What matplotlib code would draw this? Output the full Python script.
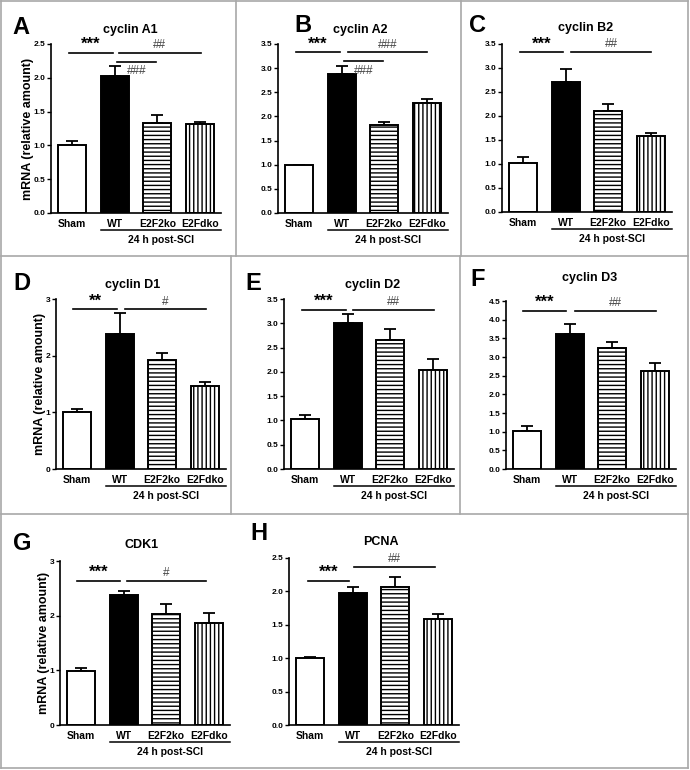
import numpy as np
import matplotlib
matplotlib.use('Agg')
from matplotlib import pyplot as plt
from matplotlib.lines import Line2D
from matplotlib import transforms

# --- data ---------------------------------------------------------------
groups = ['Sham', 'WT', 'E2F2ko', 'E2Fdko']
titles = ['cyclin A1', 'cyclin A2', 'cyclin B2', 'cyclin D1',
          'cyclin D2', 'cyclin D3', 'CDK1', 'PCNA']
letters = ['A', 'B', 'C', 'D', 'E', 'F', 'G', 'H']

cyclin_a1 = [1.01, 2.02, 1.33, 1.31]
cyclin_a1_err = [0.05, 0.16, 0.12, 0.03]
cyclin_a2 = [1.00, 2.88, 1.82, 2.27]
cyclin_a2_err = [0.0, 0.16, 0.07, 0.09]
cyclin_b2 = [1.02, 2.70, 2.11, 1.58]
cyclin_b2_err = [0.13, 0.27, 0.14, 0.07]
cyclin_d1 = [1.00, 2.39, 1.92, 1.46]
cyclin_d1_err = [0.06, 0.36, 0.13, 0.07]
cyclin_d2 = [1.02, 3.01, 2.66, 2.04]
cyclin_d2_err = [0.10, 0.18, 0.23, 0.23]
cyclin_d3 = [1.03, 3.62, 3.24, 2.62]
cyclin_d3_err = [0.11, 0.27, 0.16, 0.23]
cdk1 = [0.99, 2.37, 2.03, 1.86]
cdk1_err = [0.06, 0.09, 0.18, 0.19]
pcna = [1.00, 1.97, 2.06, 1.59]
pcna_err = [0.02, 0.10, 0.15, 0.07]

means = [cyclin_a1, cyclin_a2, cyclin_b2, cyclin_d1, cyclin_d2, cyclin_d3, cdk1, pcna]
errs = [cyclin_a1_err, cyclin_a2_err, cyclin_b2_err, cyclin_d1_err,
        cyclin_d2_err, cyclin_d3_err, cdk1_err, pcna_err]

y_max = [2.5, 3.5, 3.5, 3, 3.5, 4.5, 3, 2.5]
y_step = [0.5, 0.5, 0.5, 1, 0.5, 0.5, 1, 0.5]

# significance bars: (x from, x to, height, label, label below line?)
sig_marks = [
    [(-0.08, 0.95, 2.37, '***', False), (1.10, 3.02, 2.37, '##', False), (1.05, 1.96, 2.24, '###', True)],
    [(-0.07, 0.95, 3.33, '***', False), (1.14, 3.00, 3.33, '###', False), (1.05, 1.96, 3.14, '###', True)],
    [(-0.08, 0.94, 3.33, '***', False), (1.13, 3.00, 3.33, '##', False)],
    [(-0.10, 0.94, 2.82, '**', False), (1.12, 3.03, 2.82, '#', False)],
    [(-0.08, 0.96, 3.28, '***', False), (1.12, 3.03, 3.28, '##', False)],
    [(-0.09, 0.92, 4.24, '***', False), (1.12, 3.03, 4.24, '##', False)],
    [(-0.09, 0.90, 2.64, '***', False), (1.07, 2.94, 2.64, '#', False)],
    [(-0.06, 0.92, 2.16, '***', False), (1.03, 2.93, 2.37, '##', False)],
]

# --- layout (pixels) --------------------------------------------------------
W, H = 690, 770
# left, top (y at ymax), bottom (y at 0)
boxes = [(51, 44, 213), (278, 44, 213), (502, 44, 212),
         (56, 299, 469), (284, 299, 469), (506, 301, 469),
         (60, 561, 725), (289, 558, 725)]
AX_W = 170
letter_pos = [(21, 27), (303, 26), (478, 26), (22, 283), (253, 283), (478, 279), (22, 543), (259, 534)]
title_pos = [(130, 30), (360, 30), (586, 28), (133, 285), (373, 285), (590, 278), (142, 545), (381, 542)]

plt.rcParams['font.family'] = ['Liberation Sans', 'DejaVu Sans']
plt.rcParams['font.weight'] = 'bold'
plt.rcParams['hatch.linewidth'] = 1.0


def fx(x):
    return x / W


def fy(y):
    return 1 - y / H


def draw_panel(fig, i):
    left, top, bottom = boxes[i]
    ax = fig.add_axes([fx(left), fy(bottom), AX_W / W, (bottom - top) / H])
    x = np.arange(len(groups))
    hatches = ['', '', '----', '||||']
    faces = ['white', 'black', 'white', 'white']
    lower = np.zeros(len(groups))
    ax.errorbar(x, means[i], yerr=[lower, errs[i]], fmt='none', ecolor='black',
                elinewidth=1.3, capsize=4.5, capthick=1.3, zorder=1)
    ax.bar(x, means[i], width=0.67, color=faces, edgecolor='black',
           linewidth=1.4, hatch=hatches, zorder=2)
    ax.set_xlim(-0.5, 3.5)
    ax.set_ylim(0, y_max[i])
    ax.set_yticks(np.arange(0, y_max[i] + 1e-9, y_step[i]))
    if y_step[i] == 1:
        ax.set_yticklabels(['%d' % v for v in ax.get_yticks()])
    else:
        ax.set_yticklabels(['%.1f' % v for v in ax.get_yticks()])
    ax.set_xticks(x)
    ax.set_xticklabels(groups, fontsize=7.5)
    ax.tick_params(axis='x', length=0, pad=4)
    ax.tick_params(axis='y', length=3, width=1, labelsize=6, pad=1)
    for s in ['top', 'right']:
        ax.spines[s].set_visible(False)
    for s in ['left', 'bottom']:
        ax.spines[s].set_linewidth(1.2)

    # 24 h post-SCI bracket under WT..E2Fdko
    h = bottom - top
    trans = transforms.blended_transform_factory(ax.transData, ax.transAxes)
    ax.plot([0.665, 3.5], [-17 / h, -17 / h], color='black', lw=1.1,
            transform=trans, clip_on=False)
    ax.text(2.08, -27 / h, '24 h post-SCI', transform=trans, ha='center',
            va='center', fontsize=7.5)

    for x0, x1, yv, lab, below in sig_marks[i]:
        ax.plot([x0, x1], [yv, yv], color='black', lw=1.2, clip_on=False)
        xm = (x0 + x1) / 2
        if lab.startswith('*'):
            ax.text(xm, yv + y_max[i] * 0.005, lab, ha='center', va='bottom',
                    fontsize=12, color='black')
        elif below:
            ax.text(xm, yv - y_max[i] * 0.02, lab, ha='center', va='top',
                    fontsize=8.5, fontweight='normal', color='#444444')
        else:
            ax.text(xm, yv + y_max[i] * 0.01, lab, ha='center', va='bottom',
                    fontsize=8.5, fontweight='normal', color='#444444')

    if i in (0, 3, 6):
        ax.set_ylabel('mRNA (relative amount)', fontsize=9, fontweight='bold',
                      labelpad=0)

    lx, ly = letter_pos[i]
    fig.text(fx(lx), fy(ly), letters[i], fontsize=17, ha='center', va='center')
    tx, ty = title_pos[i]
    fig.text(fx(tx), fy(ty), titles[i], fontsize=9, ha='center', va='center')
    return ax


def draw_frame(fig):
    col = '#a8a8a8'
    segs = [
        ((1, 1), (1, 768)), ((688, 688), (1, 768)),
        ((1, 688), (1, 1)), ((1, 688), (768, 768)),
        ((1, 688), (256, 256)), ((1, 688), (514, 514)),
        ((236, 236), (1, 256)), ((461, 461), (1, 256)),
        ((231, 231), (256, 514)), ((460, 460), (256, 514)),
    ]
    for xs, ys in segs:
        fig.add_artist(Line2D([fx(v) for v in xs], [fy(v) for v in ys],
                              color=col, lw=1.2))


def main():
    fig = plt.figure(figsize=(W / 100, H / 100), dpi=100)
    for i in range(len(titles)):
        draw_panel(fig, i)
    draw_frame(fig)
    fig.savefig('out.png', dpi=100, facecolor='white')


if __name__ == '__main__':
    main()
